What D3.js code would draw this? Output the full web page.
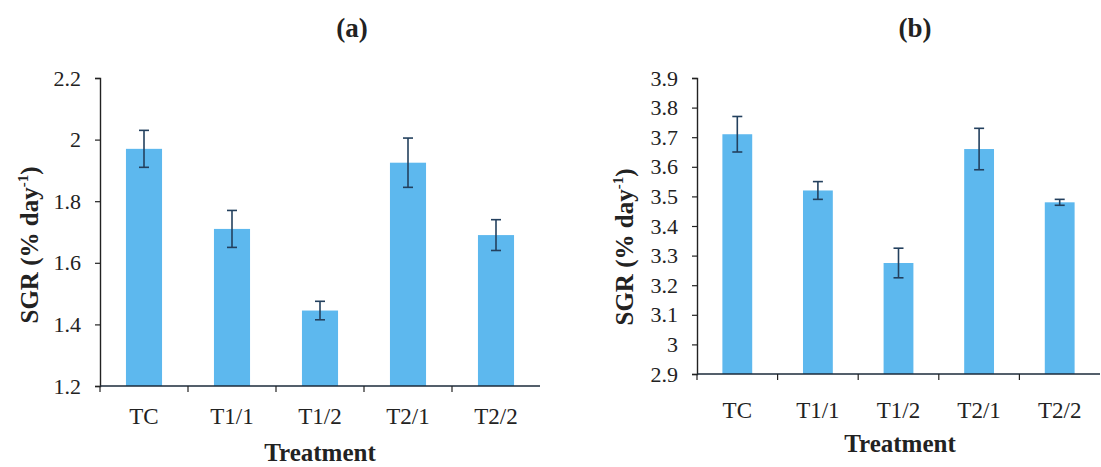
<!DOCTYPE html>
<html>
<head>
<meta charset="utf-8">
<script src="https://cdn.jsdelivr.net/npm/d3@7"></script>
<style>
  body { margin: 0; background: #fff; }
  svg { display: block; }
  text { font-family: "Liberation Serif", "Times New Roman", serif; fill: #222; }
</style>
</head>
<body>
<svg id="chart" width="1101" height="467"></svg>
<script>
// Treatments shared by both panels
const categories = ["TC", "T1/1", "T1/2", "T2/1", "T2/2"];

// Panel (a): SGR means and standard errors
const sgrA = [1.97, 1.71, 1.445, 1.925, 1.69];
const errA = [0.06, 0.06, 0.03, 0.08, 0.05];
const ticksA = [1.2, 1.4, 1.6, 1.8, 2.0, 2.2];

// Panel (b): SGR means and standard errors
const sgrB = [3.71, 3.52, 3.275, 3.66, 3.48];
const errB = [0.06, 0.03, 0.05, 0.07, 0.01];
const ticksB = [2.9, 3.0, 3.1, 3.2, 3.3, 3.4, 3.5, 3.6, 3.7, 3.8, 3.9];

const svg = d3.select("#chart");
const barColor = "#5db8ee";
const errColor = "#23405e";
const serif = "'Liberation Serif', 'Times New Roman', serif";

function panel(cfg) {
  const x = d3.scaleBand().domain(categories).range([cfg.x0, cfg.x1])
    .paddingInner(cfg.pad).paddingOuter(cfg.pad / 2);
  const y = d3.scaleLinear().domain(cfg.domain).range([cfg.yBottom, cfg.yTop]);
  const g = svg.append("g");

  // bars
  g.selectAll("rect.bar").data(cfg.values).join("rect")
    .attr("class", "bar")
    .attr("x", (d, i) => x(categories[i]))
    .attr("width", x.bandwidth())
    .attr("y", d => y(d))
    .attr("height", d => y(cfg.domain[0]) - y(d))
    .attr("fill", barColor);

  // error bars
  const eb = g.selectAll("g.err").data(cfg.values).join("g").attr("class", "err");
  const cx = i => x(categories[i]) + x.bandwidth() / 2;
  eb.append("line")
    .attr("x1", (d, i) => cx(i)).attr("x2", (d, i) => cx(i))
    .attr("y1", (d, i) => y(d + cfg.errs[i])).attr("y2", (d, i) => y(d - cfg.errs[i]))
    .attr("stroke", errColor).attr("stroke-width", 1.6);
  [1, -1].forEach(s => {
    eb.append("line")
      .attr("x1", (d, i) => cx(i) - 5).attr("x2", (d, i) => cx(i) + 5)
      .attr("y1", (d, i) => y(d + s * cfg.errs[i])).attr("y2", (d, i) => y(d + s * cfg.errs[i]))
      .attr("stroke", errColor).attr("stroke-width", 1.6);
  });

  // y axis
  const yAxis = g.append("g").attr("transform", `translate(${cfg.x0},0)`)
    .call(d3.axisLeft(y).tickValues(cfg.ticks).tickSize(5).tickPadding(14)
      .tickFormat(d => String(+d.toFixed(1))));
  yAxis.select(".domain").attr("stroke", "#222").attr("stroke-width", 1.4);
  yAxis.selectAll(".tick line").attr("stroke", "#222").attr("stroke-width", 1.2);
  yAxis.selectAll(".tick text").attr("fill", "#222")
    .style("font-family", serif).style("font-size", cfg.tickFont + "px");

  // x axis: ticks at band boundaries
  const bounds = categories.map(c => x(c) - x.step() * x.paddingInner() / 2);
  g.append("line").attr("x1", cfg.x0).attr("x2", cfg.x1)
    .attr("y1", cfg.yBottom).attr("y2", cfg.yBottom)
    .attr("stroke", "#1b2a3a").attr("stroke-width", 1.6);
  g.selectAll("line.xt").data(bounds).join("line")
    .attr("class", "xt")
    .attr("x1", d => d).attr("x2", d => d)
    .attr("y1", cfg.yBottom).attr("y2", cfg.yBottom + 6)
    .attr("stroke", "#222").attr("stroke-width", 1.2);
  g.selectAll("text.xl").data(categories).join("text")
    .attr("class", "xl")
    .attr("x", d => x(d) + x.bandwidth() / 2)
    .attr("y", cfg.xLabelY)
    .attr("text-anchor", "middle")
    .style("font-size", "23px")
    .text(d => d);

  // axis titles
  g.append("text")
    .attr("x", cfg.xTitleX)
    .attr("y", cfg.xTitleY)
    .attr("text-anchor", "middle")
    .style("font-size", "25px").style("font-weight", "bold")
    .text("Treatment");

  const yt = g.append("text")
    .attr("transform", `translate(${cfg.yTitleX},${cfg.yTitleY}) rotate(-90)`)
    .attr("text-anchor", "middle")
    .style("font-size", "25px").style("font-weight", "bold");
  yt.append("tspan").text("SGR (% day");
  yt.append("tspan").style("font-size", "15px").attr("dy", -10).text("-1");
  yt.append("tspan").attr("dy", 10).text(")");

  // panel label
  g.append("text")
    .attr("x", cfg.labelX).attr("y", 37)
    .attr("text-anchor", "middle")
    .style("font-size", "27px").style("font-weight", "bold")
    .text(cfg.label);
}

panel({
  x0: 100, x1: 540, pad: 0.59, domain: [1.2, 2.2], yTop: 78, yBottom: 386,
  values: sgrA, errs: errA, ticks: ticksA, tickFont: 22,
  xLabelY: 424, xTitleX: 320, xTitleY: 461, yTitleX: 38, yTitleY: 245,
  labelX: 352, label: "(a)"
});

panel({
  x0: 697, x1: 1100, pad: 0.63, domain: [2.9, 3.9], yTop: 78, yBottom: 374,
  values: sgrB, errs: errB, ticks: ticksB, tickFont: 22,
  xLabelY: 418, xTitleX: 900, xTitleY: 452, yTitleX: 633, yTitleY: 247,
  labelX: 915, label: "(b)"
});
</script>
</body>
</html>
